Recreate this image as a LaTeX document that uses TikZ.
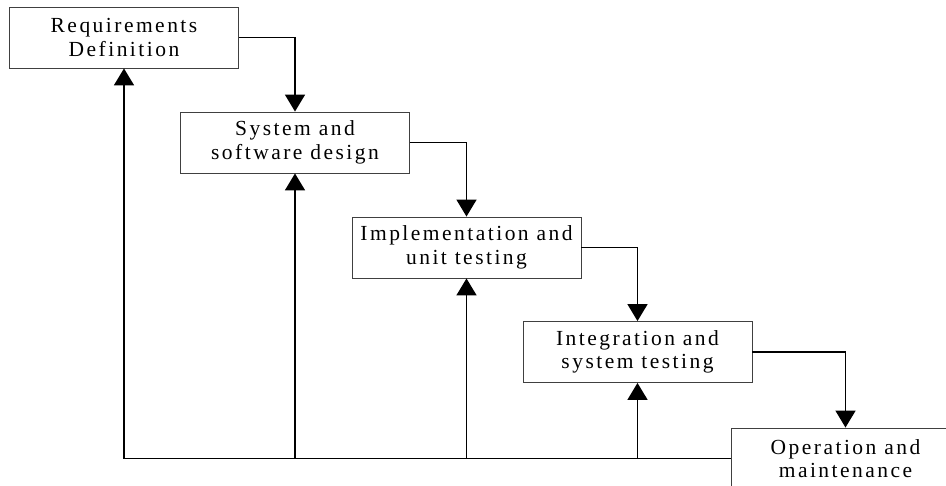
\documentclass[tikz,border=0pt]{standalone}
\usepackage{fontspec}
\setmainfont{Liberation Serif}[LetterSpace=11.5]
\usetikzlibrary{arrows.meta}
\begin{document}
\begin{tikzpicture}[x=1pt,y=-1pt,
  stage/.style={draw=black!75,line width=0.9pt,fill=white,minimum width=229pt,minimum height=61pt,
    inner sep=0pt,align=center,font=\fontsize{21.5pt}{23.5pt}\selectfont},
  flow/.style={draw=black,line width=1.8pt,-{Triangle[width=20pt,length=17pt]}}]
\clip (0,0) rectangle (946,486);
\node[stage] (b1) at (124,37.5) {Requirements\\Definition};
\node[stage] (b2) at (295,142.5) {System and\\software design};
\node[stage] (b3) at (466.5,247.5) {Implementation and\\unit testing};
\node[stage] (b4) at (637.5,352) {Integration and\\system testing};
\node[stage] (b5) at (845.5,458.5) {Operation and\\maintenance};
\draw[flow] (b1.east) -| (b2.north);
\draw[flow] (b2.east) -| (b3.north);
\draw[flow] (b3.east) -| (b4.north);
\draw[flow] (b4.east) -| (b5.north);
\draw[flow] (b5.west) -| (b1.south);
\draw[flow] (b2.south |- b5.west) -- (b2.south);
\draw[flow] (b3.south |- b5.west) -- (b3.south);
\draw[flow] (b4.south |- b5.west) -- (b4.south);
\end{tikzpicture}
\end{document}
